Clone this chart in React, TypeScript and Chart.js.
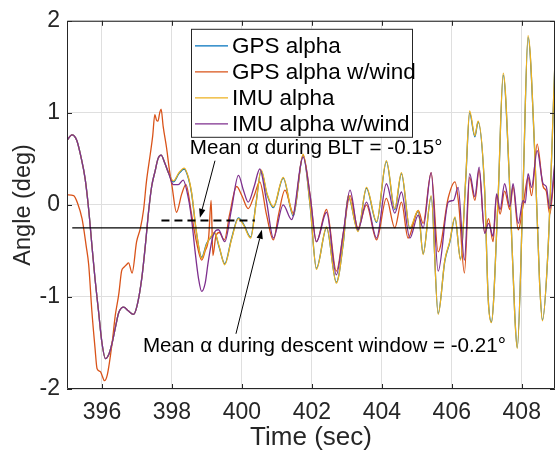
import React, { useEffect, useRef } from "react";
import { Chart, registerables } from "chart.js";

Chart.register(...registerables);

// ---------- data ----------
const xTickValues = [396, 398, 400, 402, 404, 406, 408];
const yTickValues = [-2, -1, 0, 1, 2];
const legendLabels = ["GPS alpha", "GPS alpha w/wind", "IMU alpha", "IMU alpha w/wind"];
const seriesColors = ["#0072BD", "#D95319", "#EDB120", "#7E2F8E"];

// [time (sec), angle (deg)]
const imuAlphaWind = [
  [395.0, 0.70], [395.14, 0.76], [395.28, 0.70], [395.4, 0.52], [395.52, 0.28], [395.62, -0.05],
  [395.71, -0.43], [395.8, -0.80], [395.9, -1.15], [396.0, -1.50], [396.1, -1.67], [396.2, -1.62],
  [396.29, -1.50], [396.4, -1.30], [396.48, -1.17], [396.62, -1.11], [396.75, -1.15], [396.9, -1.19],
  [397.0, -1.10], [397.14, -0.79], [397.25, -0.40], [397.33, -0.08], [397.42, 0.20], [397.52, 0.37],
  [397.6, 0.50], [397.69, 0.54], [397.8, 0.45], [397.91, 0.34], [398.04, 0.22], [398.18, 0.22],
  [398.32, 0.27], [398.47, 0.07], [398.56, -0.15], [398.66, -0.50], [398.76, -0.80], [398.85, -0.94],
  [398.95, -0.85], [399.04, -0.61], [399.18, -0.33], [399.33, -0.27], [399.51, -0.40], [399.7, -0.05],
  [399.9, 0.32], [400.05, 0.15], [400.18, 0.03], [400.35, 0.20], [400.51, 0.39], [400.7, 0.05],
  [400.9, -0.36], [401.18, 0.00], [401.42, -0.16], [401.75, 0.52], [401.95, 0.10], [402.13, -0.40],
  [402.42, -0.08], [402.7, -0.76], [402.9, -0.30], [403.09, 0.16], [403.32, -0.27], [403.56, 0.03],
  [403.85, -0.36], [404.13, 0.23], [404.37, -0.09], [404.56, 0.14], [404.8, -0.36], [405.04, -0.11],
  [405.18, -0.25], [405.41, 0.35], [405.61, -0.72], [405.9, 0.03], [406.05, 0.05], [406.18, 0.19],
  [406.36, -0.60], [406.51, 0.34], [406.66, 0.09], [406.78, 0.41], [406.94, -0.31], [407.05, -0.20],
  [407.18, -0.34], [407.28, 0.12], [407.38, -0.05], [407.51, 0.23], [407.66, -0.02], [407.75, 0.23],
  [407.9, -0.20], [408.04, 0.05], [408.1, 0.02], [408.18, 0.34], [408.28, 0.19], [408.44, 0.59],
  [408.61, 0.23], [408.7, 0.20], [408.8, -0.04], [408.94, 0.44],
];

const imuAlpha = [
  [395.0, 0.70], [395.14, 0.76], [395.28, 0.70], [395.4, 0.52], [395.52, 0.28], [395.62, -0.05],
  [395.71, -0.43], [395.8, -0.80], [395.9, -1.15], [396.0, -1.50], [396.1, -1.67], [396.2, -1.62],
  [396.29, -1.50], [396.4, -1.30], [396.48, -1.17], [396.62, -1.11], [396.75, -1.15], [396.9, -1.19],
  [397.0, -1.10], [397.14, -0.79], [397.25, -0.40], [397.33, -0.08], [397.42, 0.20], [397.52, 0.37],
  [397.6, 0.50], [397.69, 0.54], [397.8, 0.45], [397.91, 0.34], [398.04, 0.26], [398.2, 0.35],
  [398.35, 0.40], [398.47, 0.30], [398.56, 0.14], [398.7, -0.29], [398.85, -0.58], [398.99, -0.43],
  [399.1, -0.35], [399.22, -0.30], [399.35, -0.45], [399.51, -0.65], [399.7, -0.38], [399.9, -0.15],
  [400.05, -0.22], [400.25, -0.36], [400.4, 0.00], [400.55, 0.38], [400.72, 0.12], [400.9, -0.02],
  [401.18, 0.30], [401.47, -0.11], [401.75, 0.55], [401.95, 0.00], [402.13, -0.70], [402.42, -0.24],
  [402.7, -0.85], [402.9, -0.40], [403.04, 0.10], [403.32, -0.29], [403.56, 0.19], [403.85, -0.18],
  [404.13, 0.48], [404.37, -0.04], [404.56, 0.35], [404.8, -0.25], [405.04, -0.06], [405.18, -0.54],
  [405.41, 0.10], [405.61, -1.19], [405.8, -0.60], [405.94, -0.40], [406.09, -0.13], [406.25, -0.60],
  [406.4, 0.30], [406.51, 1.02], [406.66, 0.75], [406.75, 0.91], [406.94, 0.16], [407.04, -1.02],
  [407.13, -1.28], [407.32, 0.05], [407.47, 1.43], [407.66, 0.16], [407.8, -1.20], [407.87, -1.56],
  [408.04, 0.23], [408.18, 1.84], [408.37, 0.59], [408.51, -0.85], [408.59, -1.26], [408.75, -0.49],
  [408.94, 1.48],
];

const gpsAlpha = [
  [395.0, 0.70], [395.14, 0.76], [395.28, 0.70], [395.4, 0.52], [395.52, 0.28], [395.62, -0.05],
  [395.71, -0.43], [395.8, -0.80], [395.9, -1.15], [396.0, -1.50], [396.1, -1.67], [396.2, -1.62],
  [396.29, -1.50], [396.4, -1.30], [396.48, -1.17], [396.62, -1.11], [396.75, -1.15], [396.9, -1.19],
  [397.0, -1.10], [397.14, -0.79], [397.25, -0.40], [397.33, -0.08], [397.42, 0.20], [397.52, 0.37],
  [397.6, 0.50], [397.69, 0.54], [397.8, 0.45], [397.91, 0.34], [398.04, 0.25], [398.2, 0.34],
  [398.35, 0.39], [398.47, 0.29], [398.56, 0.13], [398.7, -0.30], [398.85, -0.57], [398.99, -0.42],
  [399.1, -0.36], [399.22, -0.31], [399.35, -0.46], [399.51, -0.64], [399.7, -0.37], [399.9, -0.14],
  [400.05, -0.21], [400.25, -0.35], [400.4, 0.01], [400.55, 0.37], [400.72, 0.11], [400.9, -0.03],
  [401.18, 0.29], [401.47, -0.12], [401.75, 0.54], [401.95, -0.01], [402.13, -0.69], [402.42, -0.25],
  [402.7, -0.84], [402.9, -0.41], [403.04, 0.09], [403.32, -0.28], [403.56, 0.18], [403.85, -0.19],
  [404.13, 0.47], [404.37, -0.05], [404.56, 0.34], [404.8, -0.26], [405.04, -0.07], [405.18, -0.53],
  [405.41, 0.09], [405.61, -1.18], [405.8, -0.61], [405.94, -0.41], [406.09, -0.14], [406.25, -0.59],
  [406.4, 0.29], [406.51, 1.00], [406.66, 0.74], [406.75, 0.90], [406.94, 0.15], [407.04, -1.01],
  [407.13, -1.27], [407.32, 0.04], [407.47, 1.41], [407.66, 0.15], [407.8, -1.19], [407.87, -1.55],
  [408.04, 0.22], [408.18, 1.82], [408.37, 0.58], [408.51, -0.84], [408.59, -1.25], [408.75, -0.50],
  [408.94, 1.46],
];

const gpsAlphaWind = [
  [395.0, 0.11], [395.19, 0.10], [395.3, 0.02], [395.43, -0.15], [395.55, -0.45], [395.62, -0.65],
  [395.71, -1.15], [395.8, -1.55], [395.86, -1.78], [395.95, -1.81], [396.0, -1.85], [396.07, -1.91],
  [396.15, -1.85], [396.29, -1.50], [396.38, -1.20], [396.48, -0.97], [396.56, -0.72], [396.62, -0.68],
  [396.7, -0.65], [396.76, -0.63], [396.86, -0.74], [396.99, -0.40], [397.1, -0.25], [397.19, -0.05],
  [397.27, 0.25], [397.38, 0.55], [397.45, 0.75], [397.51, 0.98], [397.56, 0.92], [397.6, 0.91],
  [397.65, 1.00], [397.69, 1.04], [397.75, 0.85], [397.85, 0.61], [397.92, 0.40], [398.0, 0.21],
  [398.13, -0.08], [398.28, 0.12], [398.4, 0.22], [398.56, -0.10], [398.7, -0.40], [398.85, -0.60],
  [398.95, -0.50], [399.05, -0.35], [399.12, 0.05], [399.17, -0.55], [399.25, -0.35], [399.35, -0.30],
  [399.5, -0.38], [399.65, -0.10], [399.85, 0.20], [400.0, 0.10], [400.18, -0.04], [400.35, 0.10],
  [400.51, 0.25], [400.7, -0.10], [400.9, -0.38], [401.05, -0.10], [401.23, 0.16], [401.47, -0.09],
  [401.75, 0.54], [401.95, 0.10], [402.13, -0.40], [402.42, -0.05], [402.7, -0.72], [402.9, -0.30],
  [403.09, 0.10], [403.32, -0.25], [403.56, 0.00], [403.85, -0.38], [404.13, 0.07], [404.37, -0.25],
  [404.56, 0.03], [404.75, -0.36], [405.04, -0.06], [405.18, -0.20], [405.41, 0.35], [405.61, -0.51],
  [405.9, 0.08], [406.09, 0.25], [406.2, 0.00], [406.36, -0.74], [406.51, 0.30], [406.66, 0.05],
  [406.78, 0.38], [406.94, -0.30], [407.05, -0.15], [407.18, -0.40], [407.28, 0.10], [407.38, -0.10],
  [407.51, 0.15], [407.66, -0.05], [407.75, 0.20], [407.9, -0.27], [408.04, 0.00], [408.18, 0.30],
  [408.28, 0.10], [408.44, 0.66], [408.61, 0.20], [408.7, 0.15], [408.8, -0.10], [408.94, 0.40],
];

const meanBltLine = [[397.7, -0.17], [400.37, -0.17]];
const meanDescentLine = [[395.15, -0.25], [408.5, -0.25]];

const annotationTexts = ["Mean \u03b1 during BLT = -0.15\u00b0", "Mean \u03b1 during descent window = -0.21\u00b0"];
const xTitle = "Time (sec)";
const yTitle = "Angle (deg)";

// ---------- rendering ----------
const FONT = "'Liberation Sans', Arial, Helvetica, sans-serif";
const AXIS_COLOR = "#262626";

const toPts = (arr: number[][]) => arr.map(([x, y]) => ({ x, y }));

function drawArrow(ctx: CanvasRenderingContext2D, x1: number, y1: number, x2: number, y2: number) {
  ctx.save();
  ctx.strokeStyle = "#000";
  ctx.fillStyle = "#000";
  ctx.lineWidth = 1;
  const ang = Math.atan2(y2 - y1, x2 - x1);
  const L = 9;
  const W = 3.2;
  const bx = x2 - L * Math.cos(ang);
  const by = y2 - L * Math.sin(ang);
  ctx.beginPath();
  ctx.moveTo(x1, y1);
  ctx.lineTo(bx, by);
  ctx.stroke();
  ctx.beginPath();
  ctx.moveTo(x2, y2);
  ctx.lineTo(bx + W * Math.sin(ang), by - W * Math.cos(ang));
  ctx.lineTo(bx - W * Math.sin(ang), by + W * Math.cos(ang));
  ctx.closePath();
  ctx.fill();
  ctx.restore();
}

const overlayPlugin = {
  id: "matlabOverlay",
  afterDraw(chart: any) {
    const { ctx, chartArea } = chart;
    const xs = chart.scales.x;
    const ys = chart.scales.y;
    const { left, right, top, bottom } = chartArea;
    ctx.save();

    // axis box + inner ticks
    ctx.strokeStyle = AXIS_COLOR;
    ctx.lineWidth = 1;
    ctx.beginPath();
    ctx.rect(left + 0.5, top + 0.5, right - left - 1, bottom - top - 1);
    ctx.stroke();
    const tl = 5;
    ctx.beginPath();
    xTickValues.forEach((v) => {
      const px = Math.round(xs.getPixelForValue(v)) + 0.5;
      ctx.moveTo(px, bottom);
      ctx.lineTo(px, bottom - tl);
      ctx.moveTo(px, top);
      ctx.lineTo(px, top + tl);
    });
    yTickValues.forEach((v) => {
      const py = Math.round(ys.getPixelForValue(v)) + 0.5;
      ctx.moveTo(left, py);
      ctx.lineTo(left + tl, py);
      ctx.moveTo(right, py);
      ctx.lineTo(right - tl, py);
    });
    ctx.stroke();

    // legend
    const lx = left + 124;
    const ly = top + 8;
    const lw = 221;
    const lh = 108;
    ctx.fillStyle = "#fff";
    ctx.fillRect(lx, ly, lw, lh);
    ctx.strokeStyle = AXIS_COLOR;
    ctx.lineWidth = 1;
    ctx.strokeRect(lx + 0.5, ly + 0.5, lw, lh);
    ctx.font = `22.5px ${FONT}`;
    ctx.textBaseline = "middle";
    ctx.textAlign = "left";
    legendLabels.forEach((lab, i) => {
      const ry = ly + 17 + i * 26;
      ctx.strokeStyle = seriesColors[i];
      ctx.lineWidth = 1.3;
      ctx.beginPath();
      ctx.moveTo(lx + 4, ry);
      ctx.lineTo(lx + 37, ry);
      ctx.stroke();
      ctx.fillStyle = "#000";
      ctx.fillText(lab, lx + 41, ry + 1);
    });

    // annotations
    ctx.font = `20.6px ${FONT}`;
    ctx.fillStyle = "#000";
    ctx.textBaseline = "middle";
    ctx.fillText(annotationTexts[0], xs.getPixelForValue(398.51), ys.getPixelForValue(0.62));
    ctx.fillText(annotationTexts[1], xs.getPixelForValue(397.17), ys.getPixelForValue(-1.54));
    drawArrow(ctx, xs.getPixelForValue(399.23), ys.getPixelForValue(0.48), xs.getPixelForValue(398.8), ys.getPixelForValue(-0.14));
    drawArrow(ctx, xs.getPixelForValue(399.83), ys.getPixelForValue(-1.40), xs.getPixelForValue(400.57), ys.getPixelForValue(-0.27));

    ctx.restore();
  },
};

export default function App() {
  const canvasRef = useRef<HTMLCanvasElement | null>(null);

  useEffect(() => {
    if (!canvasRef.current) return;
    const seriesStyle = (i: number, order: number) => ({
      borderColor: seriesColors[i],
      backgroundColor: seriesColors[i],
      borderWidth: 1.3,
      pointRadius: 0,
      fill: false,
      cubicInterpolationMode: "monotone" as const,
      order,
    });
    const chart = new Chart(canvasRef.current, {
      type: "line",
      data: {
        datasets: [
          { label: legendLabels[0], data: toPts(gpsAlpha), ...seriesStyle(0, 5) },
          { label: legendLabels[1], data: toPts(gpsAlphaWind), ...seriesStyle(1, 4) },
          { label: legendLabels[2], data: toPts(imuAlpha), ...seriesStyle(2, 3) },
          { label: legendLabels[3], data: toPts(imuAlphaWind), ...seriesStyle(3, 2) },
          {
            label: "mean BLT",
            data: toPts(meanBltLine),
            borderColor: "#000",
            borderWidth: 2,
            borderDash: [8, 5],
            pointRadius: 0,
            order: 1,
          },
          {
            label: "mean descent",
            data: toPts(meanDescentLine),
            borderColor: "#000",
            borderWidth: 1.2,
            pointRadius: 0,
            order: 0,
          },
        ],
      },
      options: {
        animation: false,
        responsive: false,
        maintainAspectRatio: false,
        layout: { padding: { left: 0, right: 1, top: 17, bottom: 0 } },
        plugins: { legend: { display: false }, tooltip: { enabled: false } },
        scales: {
          x: {
            type: "linear",
            min: 395,
            max: 408.95,
            afterBuildTicks: (s: any) => {
              s.ticks = xTickValues.map((v) => ({ value: v }));
            },
            afterFit: (s: any) => {
              s.height = 70;
            },
            grid: { color: "#dfdfdf", drawTicks: false, lineWidth: 1 },
            border: { display: false },
            ticks: {
              padding: 10,
              autoSkip: false,
              maxRotation: 0,
              color: AXIS_COLOR,
              font: { family: FONT, size: 23 },
              callback: (v: any) => String(v),
            },
            title: {
              display: true,
              text: xTitle,
              color: AXIS_COLOR,
              font: { family: FONT, size: 26, lineHeight: 1.2 },
              padding: { top: 0, bottom: 6 },
            },
          },
          y: {
            type: "linear",
            min: -2,
            max: 2,
            afterBuildTicks: (s: any) => {
              s.ticks = yTickValues.map((v) => ({ value: v }));
            },
            afterFit: (s: any) => {
              s.width = 67;
            },
            grid: { color: "#dfdfdf", drawTicks: false, lineWidth: 1 },
            border: { display: false },
            ticks: {
              padding: 7,
              color: AXIS_COLOR,
              font: { family: FONT, size: 23 },
              callback: (v: any) => String(v),
            },
            title: {
              display: true,
              text: yTitle,
              color: AXIS_COLOR,
              font: { family: FONT, size: 23.5, lineHeight: 1.2 },
              padding: { top: 9, bottom: 0 },
            },
          },
        },
      },
      plugins: [overlayPlugin],
    });
    return () => chart.destroy();
  }, []);

  return (
    <div style={{ position: "absolute", left: 0, top: 0, width: 556, height: 459 }}>
      <canvas ref={canvasRef} width={556} height={459} style={{ display: "block" }} />
    </div>
  );
}
